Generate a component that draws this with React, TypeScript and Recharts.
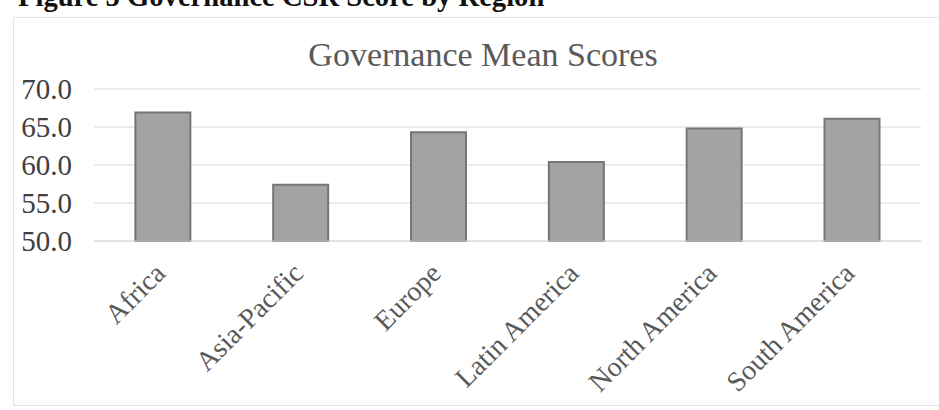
import { BarChart, Bar, XAxis, YAxis, CartesianGrid } from "recharts";

// Governance mean scores by region
const regions = [
    "Africa",
    "Asia-Pacific",
    "Europe",
    "Latin America",
    "North America",
    "South America",
];
const meanScores = [66.9, 57.4, 64.3, 60.4, 64.8, 66.1];
const yTicks = [50, 55, 60, 65, 70];

const data = regions.map((region, i) => ({ region, score: meanScores[i] }));

const serif = "'Liberation Serif', 'Times New Roman', serif";

// Rotated category labels, end-anchored just under each bar
const RegionTick = ({ x, y, payload }: any) => {
    const ax = x + 4;
    const ay = y + 34;
    return (
        <text
            x={ax}
            y={ay}
            textAnchor="end"
            transform={`rotate(-45, ${ax}, ${ay})`}
            fill="#595959"
            fontFamily={serif}
            fontSize={28}
        >
            {payload.value}
        </text>
    );
};

export default function App() {
    return (
        <div
            style={{
                position: "absolute",
                left: 0,
                top: 0,
                width: 939,
                height: 410,
                overflow: "hidden",
                background: "#fff",
            }}
        >
            {/* chart area border */}
            <div
                style={{
                    position: "absolute",
                    left: 13,
                    top: 17,
                    width: 940,
                    height: 387,
                    border: "1px solid #e4e4e4",
                }}
            />

            {/* figure caption, partly cut off at the top */}
            <div
                style={{
                    position: "absolute",
                    left: 18,
                    top: -17,
                    fontFamily: serif,
                    fontWeight: "bold",
                    fontSize: 28.6,
                    lineHeight: "28.6px",
                    color: "#111",
                    whiteSpace: "nowrap",
                }}
            >
                Figure 5 Governance CSR Score by Region
            </div>

            {/* chart title */}
            <div
                style={{
                    position: "absolute",
                    left: 233,
                    top: 38,
                    width: 500,
                    textAlign: "center",
                    fontFamily: serif,
                    fontSize: 34,
                    lineHeight: "34px",
                    color: "#595959",
                    whiteSpace: "nowrap",
                }}
            >
                Governance Mean Scores
            </div>

            <div style={{ position: "absolute", left: 0, top: 0 }}>
                <BarChart
                    width={939}
                    height={410}
                    data={data}
                    margin={{ top: 89, right: 18, left: 0, bottom: 9 }}
                    barCategoryGap="30%"
                >
                    <CartesianGrid vertical={false} stroke="#d9d9d9" />
                    <XAxis
                        dataKey="region"
                        axisLine={{ stroke: "#d9d9d9" }}
                        tickLine={false}
                        tickSize={0}
                        tickMargin={0}
                        interval={0}
                        height={160}
                        tick={<RegionTick />}
                    />
                    <YAxis
                        width={94}
                        domain={[50, 70]}
                        ticks={yTicks}
                        axisLine={false}
                        tickLine={false}
                        tickSize={0}
                        tickMargin={22}
                        tickFormatter={(v: number) => v.toFixed(1)}
                        tick={{ fill: "#404040", fontFamily: serif, fontSize: 29 }}
                    />
                    <Bar
                        dataKey="score"
                        fill="#a3a3a3"
                        stroke="#767676"
                        strokeWidth={2}
                        isAnimationActive={false}
                    />
                </BarChart>
            </div>
        </div>
    );
}
